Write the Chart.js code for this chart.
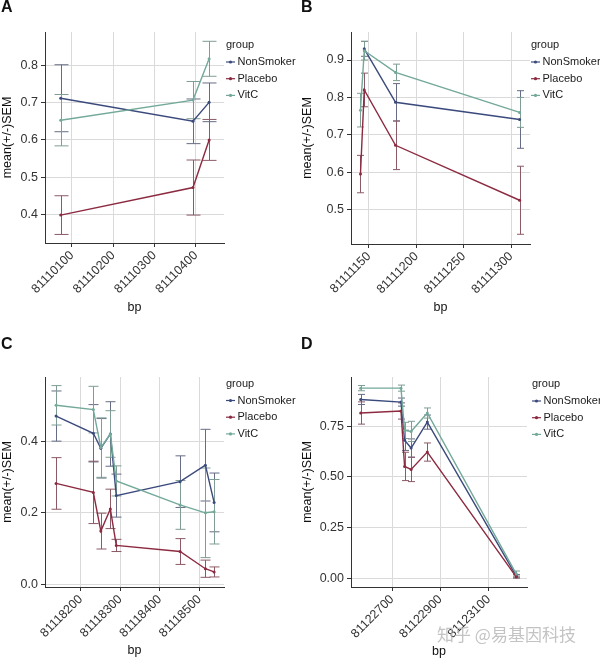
<!DOCTYPE html>
<html>
<head>
<meta charset="utf-8">
<script src="https://cdn.jsdelivr.net/npm/chart.js@4.4.1/dist/chart.umd.min.js"></script>
<style>
  body { margin: 0; background: #fff; }
  #wrap { position: relative; width: 600px; height: 660px; overflow: hidden; font-family: 'Liberation Sans', Arial, sans-serif; }
  .panel { position: absolute; width: 300px; height: 330px; }
  .panel canvas { position: absolute; left: 0; top: 0; }
  .tag { position: absolute; font-weight: bold; font-size: 16px; line-height: 1; color: #111; }
  #mark { position: absolute; left: 437px; top: 623px; font-family: 'Noto Sans CJK SC', sans-serif; font-size: 17px; line-height: 22px; color: rgba(185,185,185,0.85); white-space: nowrap; }
</style>
</head>
<body>
<div id="wrap">
  <div class="panel" style="left:0;top:0"><canvas id="cA" width="300" height="330"></canvas><div class="tag" style="left:1px;top:-1px">A</div></div>
  <div class="panel" style="left:300px;top:0"><canvas id="cB" width="300" height="330"></canvas><div class="tag" style="left:1px;top:-1px">B</div></div>
  <div class="panel" style="left:0;top:330px"><canvas id="cC" width="300" height="330"></canvas><div class="tag" style="left:1px;top:6px">C</div></div>
  <div class="panel" style="left:300px;top:330px"><canvas id="cD" width="300" height="330"></canvas><div class="tag" style="left:1px;top:6px">D</div></div>
  <div id="mark">知乎 @易基因科技</div>
</div>
<script>
// groups
const groups = ['NonSmoker', 'Placebo', 'VitC'];

// panel A
const bpA = [81110073, 81110393, 81110432];
const nonSmokerA = [0.712, 0.650, 0.701];
const placeboA = [0.398, 0.472, 0.600];
const vitcA = [0.653, 0.707, 0.818];
const semNonSmokerA = [0.090, 0.060, 0.052];
const semPlaceboA = [0.052, 0.074, 0.055];
const semVitcA = [0.069, 0.050, 0.047];
const xTicksA = [81110100, 81110200, 81110300, 81110400];

// panel B
const bpB = [81111141, 81111145, 81111178, 81111309];
const nonSmokerB = [null, 0.930, 0.787, 0.741];
const placeboB = [0.595, 0.820, 0.672, 0.525];
const vitcB = [0.766, 0.925, 0.867, 0.760];
const semNonSmokerB = [null, 0.020, 0.050, 0.077];
const semPlaceboB = [0.050, 0.045, 0.065, 0.091];
const semVitcB = [0.045, 0.025, 0.022, 0.040];
const xTicksB = [81111150, 81111200, 81111250, 81111300];

// panel C
const bpC = [81118138, 81118232, 81118251, 81118275, 81118290, 81118451, 81118515, 81118537];
const nonSmokerC = [0.470, 0.422, 0.380, 0.420, 0.248, 0.287, 0.333, 0.229];
const placeboC = [0.282, 0.257, 0.149, 0.211, 0.109, 0.092, 0.044, 0.035];
const vitcC = [0.500, 0.488, 0.382, 0.420, 0.289, 0.222, 0.200, 0.203];
const semNonSmokerC = [0.070, 0.080, 0.083, 0.090, 0.060, 0.072, 0.100, 0.082];
const semPlaceboC = [0.072, 0.087, 0.050, 0.055, 0.017, 0.036, 0.024, 0.014];
const semVitcC = [0.055, 0.065, 0.083, 0.065, 0.042, 0.068, 0.125, 0.090];
const xTicksC = [81118200, 81118300, 81118400, 81118500];

// panel D
const bpD = [81122570, 81122737, 81122752, 81122779, 81122846, 81123215];
const nonSmokerD = [0.883, 0.870, 0.681, 0.643, 0.771, 0.010];
const placeboD = [0.816, 0.826, 0.552, 0.537, 0.623, 0.005];
const vitcD = [0.939, 0.939, 0.730, 0.725, 0.816, 0.020];
const semNonSmokerD = [0.025, 0.020, 0.050, 0.045, 0.035, 0.008];
const semPlaceboD = [0.055, 0.040, 0.070, 0.060, 0.045, 0.005];
const semVitcD = [0.013, 0.015, 0.040, 0.050, 0.025, 0.015];
const xTicksD = [81122700, 81122900, 81123100];

const lineColors = ['#3b4a7c', '#8c2a40', '#73a99a'];
const barColors = ['#666c85', '#8b5a66', '#7f9d94'];
const FONT = "'Liberation Sans', Arial, sans-serif";

const errorBars = {
  id: 'errorBars',
  beforeDatasetsDraw(chart) {
    const {ctx, scales: {x, y}} = chart;
    const cap = chart.config.options.capWidth;
    ctx.save();
    ctx.lineWidth = 1;
    chart.data.datasets.forEach(ds => {
      ctx.strokeStyle = ds.barColor;
      ds.data.forEach((p, i) => {
        if (p.y === null) return;
        const px = Math.round(x.getPixelForValue(p.x)) + 0.5;
        const t = y.getPixelForValue(p.y + ds.sem[i]);
        const b = y.getPixelForValue(p.y - ds.sem[i]);
        ctx.beginPath();
        ctx.moveTo(px, t); ctx.lineTo(px, b);
        ctx.moveTo(px - cap, t); ctx.lineTo(px + cap, t);
        ctx.moveTo(px - cap, b); ctx.lineTo(px + cap, b);
        ctx.stroke();
      });
    });
    ctx.restore();
  }
};

const ggLegend = {
  id: 'ggLegend',
  afterDraw(chart) {
    const {ctx} = chart;
    const {legX, legY} = chart.config.options;
    ctx.save();
    ctx.font = '11px ' + FONT;
    ctx.textBaseline = 'middle';
    ctx.fillStyle = '#1a1a1a';
    ctx.fillText('group', legX, legY);
    groups.forEach((g, i) => {
      const yy = legY + 17 + i * 16.7;
      ctx.strokeStyle = lineColors[i];
      ctx.lineWidth = 1.2;
      ctx.beginPath(); ctx.moveTo(legX, yy); ctx.lineTo(legX + 9, yy); ctx.stroke();
      ctx.fillStyle = lineColors[i];
      ctx.beginPath(); ctx.arc(legX + 4.5, yy, 1.6, 0, Math.PI * 2); ctx.fill();
      ctx.fillStyle = '#1a1a1a';
      ctx.fillText(g, legX + 11.5, yy);
    });
    ctx.restore();
  }
};

function makePanel(id, bp, series, sems, xTicks, box) {
  const datasets = series.map((vals, k) => ({
    label: groups[k],
    data: bp.map((x, i) => ({x: x, y: vals[i]})),
    sem: sems[k],
    barColor: barColors[k],
    borderColor: lineColors[k],
    backgroundColor: lineColors[k],
    borderWidth: 1.4,
    pointRadius: 1.5,
    pointBorderWidth: 0,
    tension: 0,
    order: 3 - k
  }));
  const axisBase = {
    grid: {color: '#dadada', lineWidth: 1, tickColor: '#333', tickLength: 4, drawTicks: true},
    border: {display: true, color: '#333', width: 1}
  };
  new Chart(document.getElementById(id), {
    type: 'line',
    data: {datasets},
    plugins: [errorBars, ggLegend],
    options: {
      responsive: false,
      animation: false,
      capWidth: box.cap,
      legX: box.legX,
      legY: box.legY,
      layout: {padding: {left: 0, top: box.top, right: 300 - box.right, bottom: 0}},
      plugins: {legend: {display: false}, tooltip: {enabled: false}},
      scales: {
        x: Object.assign({}, axisBase, {
          type: 'linear',
          min: box.xmin, max: box.xmax,
          afterBuildTicks: s => { s.ticks = xTicks.map(v => ({value: v})); },
          afterFit: s => { s.height = 330 - box.bottom; },
          ticks: {autoSkip: false, minRotation: 45, maxRotation: 45,
                  padding: 1, color: '#333', font: {family: FONT, size: 12.5}, callback: v => String(v)},
          title: {display: true, text: 'bp', color: '#111', font: {family: FONT, size: 12.5},
                  padding: {top: 0, bottom: box.bpPad}}
        }),
        y: Object.assign({}, axisBase, {
          type: 'linear',
          min: box.ymin, max: box.ymax,
          afterFit: s => { s.width = box.left; },
          ticks: {stepSize: box.ystep, includeBounds: false, padding: 3, color: '#333',
                  font: {family: FONT, size: 12.5}, callback: v => v.toFixed(box.dec)},
          title: {display: true, text: 'mean(+/-)SEM', color: '#111', font: {family: FONT, size: 12.5},
                  padding: {top: 0, bottom: 0}}
        })
      }
    }
  });
}

makePanel('cA', bpA, [nonSmokerA, placeboA, vitcA], [semNonSmokerA, semPlaceboA, semVitcA], xTicksA,
  {left: 45, right: 224, top: 32, bottom: 243, xmin: 81110035, xmax: 81110468,
   ymin: 0.323, ymax: 0.89, ystep: 0.1, dec: 1, cap: 7, legX: 226, legY: 45, bpPad: 15});
makePanel('cB', bpB, [nonSmokerB, placeboB, vitcB], [semNonSmokerB, semPlaceboB, semVitcB], xTicksB,
  {left: 51, right: 230, top: 32, bottom: 244, xmin: 81111131, xmax: 81111320,
   ymin: 0.408, ymax: 0.975, ystep: 0.1, dec: 1, cap: 3.5, legX: 231, legY: 45, bpPad: 15});
makePanel('cC', bpC, [nonSmokerC, placeboC, vitcC], [semNonSmokerC, semPlaceboC, semVitcC], xTicksC,
  {left: 45, right: 224, top: 47, bottom: 257, xmin: 81118110, xmax: 81118562,
   ymin: -0.007, ymax: 0.579, ystep: 0.2, dec: 1, cap: 5, legX: 226, legY: 53.5, bpPad: 2});
makePanel('cD', bpD, [nonSmokerD, placeboD, vitcD], [semNonSmokerD, semPlaceboD, semVitcD], xTicksD,
  {left: 51, right: 227, top: 47, bottom: 257, xmin: 81122530, xmax: 81123259,
   ymin: -0.044, ymax: 0.994, ystep: 0.25, dec: 2, cap: 3.5, legX: 232, legY: 54, bpPad: 1});
</script>
</body>
</html>
